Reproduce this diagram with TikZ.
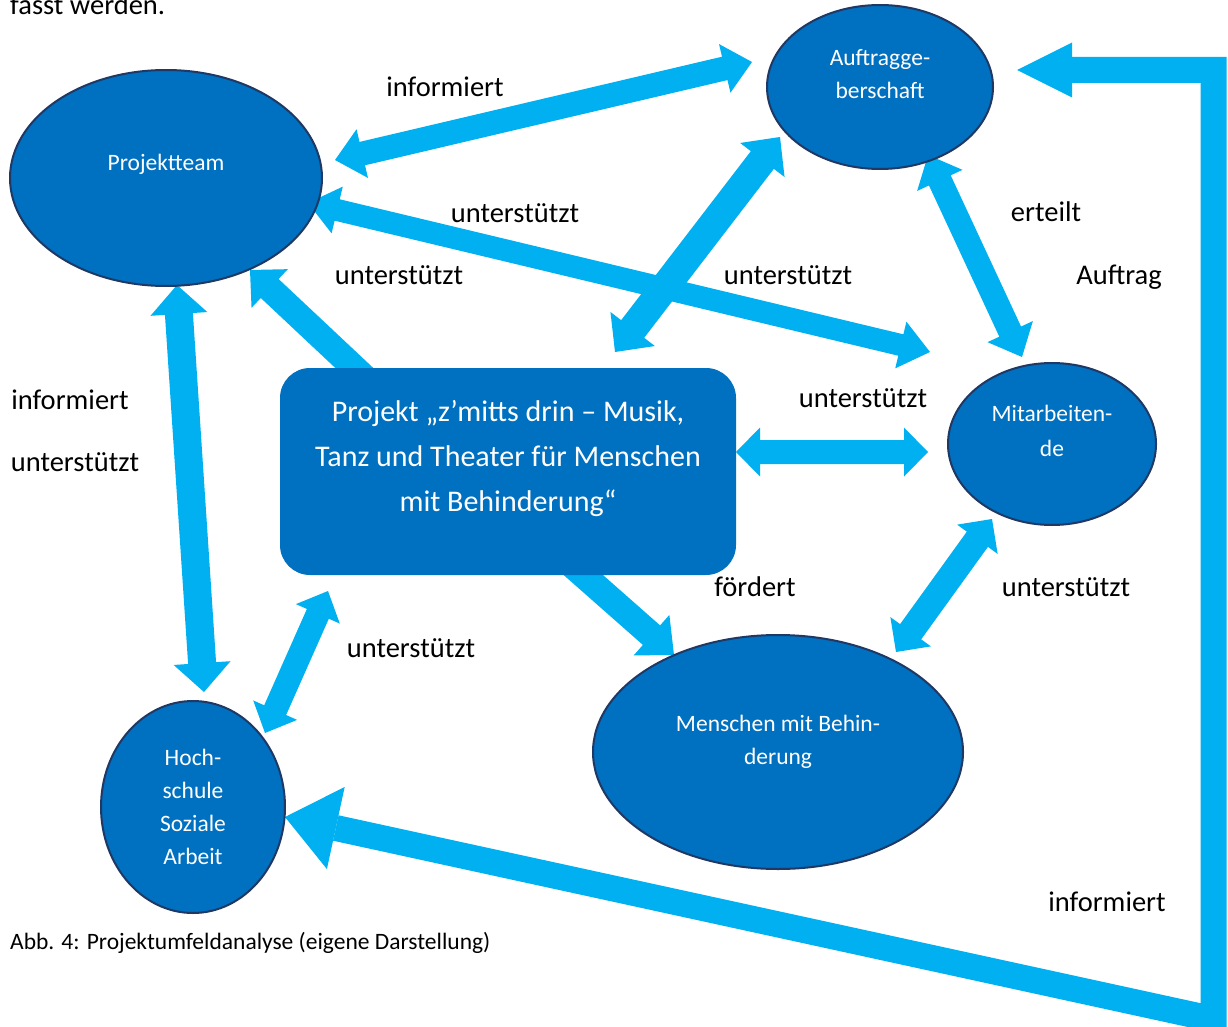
\documentclass[tikz,border=0pt]{standalone}
\usepackage{fontspec}
\setmainfont{Carlito}
\usetikzlibrary{calc,shapes.geometric}
\definecolor{arrowc}{HTML}{00B0F0}
\definecolor{nodefill}{HTML}{0070C0}
\definecolor{nodeedge}{HTML}{1F3864}

% double block arrow: #1 tip A, #2 tip B, #3 half shaft, #4 half head, #5 head length
\newcommand{\BlockDbl}[5]{%
  \coordinate (tmpA) at ($(#1)!#5!(#2)$);
  \coordinate (tmpB) at ($(#2)!#5!(#1)$);
  \fill[arrowc] (#1) -- ($(tmpA)!#4!90:(#2)$) -- ($(tmpA)!#3!90:(#2)$)
    -- ($(tmpB)!#3!-90:(#1)$) -- ($(tmpB)!#4!-90:(#1)$) -- (#2)
    -- ($(tmpB)!#4!90:(#1)$) -- ($(tmpB)!#3!90:(#1)$)
    -- ($(tmpA)!#3!-90:(#2)$) -- ($(tmpA)!#4!-90:(#2)$) -- cycle;}
% single block arrow: #1 tail, #2 tip
\newcommand{\BlockSgl}[5]{%
  \coordinate (tmpB) at ($(#2)!#5!(#1)$);
  \fill[arrowc] ($(#1)!#3!90:(#2)$) -- ($(tmpB)!#3!-90:(#1)$) -- ($(tmpB)!#4!-90:(#1)$)
    -- (#2) -- ($(tmpB)!#4!90:(#1)$) -- ($(tmpB)!#3!90:(#1)$) -- ($(#1)!#3!-90:(#2)$) -- cycle;}

\tikzset{
  ell/.style={ellipse, draw=nodeedge, line width=2pt, fill=nodefill, inner sep=0pt},
  ntext/.style={text=white, font=\fontsize{23.5}{33}\selectfont, align=center, inner sep=0pt},
  boxtext/.style={text=white, font=\fontsize{30}{45}\selectfont, align=center, inner sep=0pt},
  lbl/.style={font=\fontsize{28.5}{34}\selectfont, text=black, inner sep=0pt},
  captext/.style={font=\fontsize{23.5}{28}\selectfont, text=black, inner sep=0pt},
  boxstyle/.style={rounded corners=30pt, fill=nodefill, minimum width=456pt, minimum height=207pt, inner sep=0pt},
}

\begin{document}
\begin{tikzpicture}[x=1pt,y=-1pt]
\useasboundingbox (0,0) rectangle (1228,1027);
\clip (0,0) rectangle (1228,1027);

% arrow end points
\coordinate (paA) at (335,160);   \coordinate (paB) at (752,62);
\coordinate (pmA) at (308,203);   \coordinate (pmB) at (930,352);
\coordinate (abA) at (780,137);   \coordinate (abB) at (615,352);
\coordinate (amA) at (928,155);   \coordinate (amB) at (1022,357);
\coordinate (bpT) at (365,378);   \coordinate (bpH) at (250,270);
\coordinate (bmA) at (736,452);   \coordinate (bmB) at (928,452);
\coordinate (phA) at (177,285);   \coordinate (phB) at (204,692);
\coordinate (hbA) at (328,591);   \coordinate (hbB) at (265,733);
\coordinate (bfT) at (564,558);   \coordinate (bfH) at (674,655);
\coordinate (mmA) at (992,519);   \coordinate (mmB) at (896,652);
\coordinate (LhsTip) at (285,817);
\coordinate (LhsBase) at (335.8,828);
\coordinate (Lc1) at (1213.5,1019.3);
\coordinate (Lc2) at (1213.5,70);
\coordinate (LagBase) at (1072,70);
\coordinate (LagTip) at (1017,70);

% arrows
\BlockDbl{paA}{paB}{12pt}{25pt}{28pt}
\BlockDbl{pmA}{pmB}{11pt}{24pt}{30pt}
\BlockDbl{abA}{abB}{14.5pt}{28pt}{29pt}
\BlockDbl{amA}{amB}{12pt}{25pt}{28pt}
\BlockSgl{bpT}{bpH}{13pt}{26.5pt}{27pt}
\BlockDbl{bmA}{bmB}{12pt}{24.5pt}{24pt}
\BlockDbl{phA}{phB}{14pt}{28.5pt}{29pt}
\BlockDbl{hbA}{hbB}{12pt}{24pt}{25pt}
\BlockSgl{bfT}{bfH}{13pt}{27pt}{30pt}
\BlockDbl{mmA}{mmB}{13pt}{25pt}{25pt}
\draw[arrowc, line width=26pt, line join=miter] (LhsBase) -- (Lc1) -- (Lc2) -- (LagBase);
\fill[arrowc] (LagTip) -- ($(LagBase)!27.5pt!90:(LagTip)$) -- ($(LagBase)!27.5pt!-90:(LagTip)$) -- cycle;
\fill[arrowc] (LhsTip) -- ($(LhsBase)!42pt!90:(LhsTip)$) -- ($(LhsBase)!42pt!-90:(LhsTip)$) -- cycle;

% nodes
\node[ell, minimum width=312pt, minimum height=216pt] (pt) at (166,178) {};
\node[ell, minimum width=226pt, minimum height=164pt] (ag) at (880,87) {};
\node[ell, minimum width=208pt, minimum height=162pt] (ma) at (1052,444) {};
\node[ell, minimum width=370pt, minimum height=234pt] (mb) at (778,752) {};
\node[ell, minimum width=184pt, minimum height=212pt] (hs) at (193,807) {};
\node[boxstyle] (box) at (508,471.5) {};

\node[ntext] (ptT) at (166,164) {Projektteam};
\node[ntext] (agT) at (880,74) {Auftragge-\\berschaft};
\node[ntext, font=\fontsize{23.5}{35}\selectfont] (maT) at (1052,431) {Mitarbeiten-\\de};
\node[ntext] (mbT) at (778,741.5) {Menschen mit Behin-\\derung};
\node[ntext] (hsT) at (193,807) {Hoch-\\schule\\Soziale\\Arbeit};
\node[boxtext] (boxT) at (508,458) {Projekt „z’mitts drin – Musik,\\Tanz und Theater für Menschen\\mit Behinderung“};

% labels
\node[lbl, anchor=base west] (top) at (10,15) {fasst werden.};
\node[lbl] (l1) at (445,87) {informiert};
\node[lbl] (l2) at (515,213) {unterstützt};
\node[lbl] (l3) at (1046,212) {erteilt};
\node[lbl] (l4) at (399,275) {unterstützt};
\node[lbl] (l5) at (788,275) {unterstützt};
\node[lbl] (l6) at (1119,277) {Auftrag};
\node[lbl] (l7) at (863,398) {unterstützt};
\node[lbl] (l8) at (70,400) {informiert};
\node[lbl] (l9) at (75,462) {unterstützt};
\node[lbl] (l10) at (755,587) {fördert};
\node[lbl] (l11) at (1066,587) {unterstützt};
\node[lbl] (l12) at (411,648) {unterstützt};
\node[lbl] (l13) at (1107,902) {informiert};
\node[captext, anchor=west] (caption) at (10,943) {Abb. 4: Projektumfeldanalyse (eigene Darstellung)};
\end{tikzpicture}
\end{document}
